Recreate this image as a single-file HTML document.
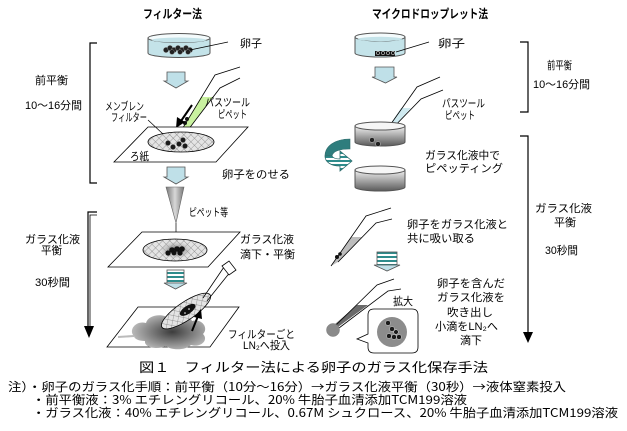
<!DOCTYPE html>
<html><head><meta charset="utf-8">
<style>
html,body{margin:0;padding:0;background:#fff;}
svg{display:block;}
text{font-family:"Liberation Sans","Noto Sans CJK JP",sans-serif;fill:#000;}
.t{font-size:11px;}
.b{font-size:12px;font-weight:bold;}
.c{font-size:13px;}
.n{font-size:12px;font-family:"Noto Sans CJK JP","Liberation Sans",sans-serif;}
</style></head>
<body>
<svg width="627" height="431" viewBox="0 0 627 431" xmlns="http://www.w3.org/2000/svg">
<defs>
  <pattern id="hatch" patternUnits="userSpaceOnUse" width="5" height="5" patternTransform="rotate(45)">
    <rect width="5" height="5" fill="#e4e4e4"/>
    <path d="M0,0 L5,0 M0,0 L0,5" stroke="#7a7a7a" stroke-width="0.7"/>
  </pattern>
  <pattern id="stripe" patternUnits="userSpaceOnUse" width="4" height="4">
    <rect width="4" height="4" fill="#ffffff"/>
    <rect width="4" height="2" fill="#2e8c8c"/>
  </pattern>
  <linearGradient id="gdish" x1="0" y1="0" x2="0" y2="1">
    <stop offset="0" stop-color="#f2f2f2"/>
    <stop offset="1" stop-color="#5a5a5a"/>
  </linearGradient>
  <linearGradient id="gcone" x1="0" y1="0" x2="1" y2="0">
    <stop offset="0" stop-color="#777"/>
    <stop offset="0.5" stop-color="#d8d8d8"/>
    <stop offset="1" stop-color="#777"/>
  </linearGradient>
  <radialGradient id="gcloud" cx="0.55" cy="0.5" r="0.6">
    <stop offset="0" stop-color="#3c3c3c"/>
    <stop offset="1" stop-color="#c4c4c4"/>
  </radialGradient>
  <radialGradient id="ghalo" cx="0.5" cy="0.5" r="0.5">
    <stop offset="0" stop-color="#555"/>
    <stop offset="1" stop-color="#bbb" stop-opacity="0.2"/>
  </radialGradient>
</defs>

<!-- Titles -->
<text class="b" x="143" y="18" textLength="59" lengthAdjust="spacingAndGlyphs">フィルター法</text>
<text class="b" x="372" y="18" textLength="116" lengthAdjust="spacingAndGlyphs">マイクロドロップレット法</text>

<!-- ===== LEFT ===== -->
<path d="M97,43 L90,43 L90,183 L97,183" fill="none" stroke="#000" stroke-width="1.2"/>
<text class="t" x="35" y="84" textLength="33" lengthAdjust="spacingAndGlyphs">前平衡</text>
<text class="t" x="25" y="109" textLength="57" lengthAdjust="spacingAndGlyphs">10～16分間</text>

<!-- dish 1 -->
<path d="M148,38 L148,53 A31,4.5 0 0 0 210,53 L210,38 Z" fill="#c4e3e9" stroke="#555"/>
<ellipse cx="179" cy="38" rx="31" ry="4.5" fill="#f4fbfc" stroke="#555"/>
<ellipse cx="179" cy="40" rx="27" ry="2.5" fill="#c4e3e9"/>
<g fill="#222" stroke="#888" stroke-width="0.5">
<circle cx="166" cy="50" r="2.6"/><circle cx="170" cy="48" r="2.6"/><circle cx="174" cy="50" r="2.6"/>
<circle cx="178" cy="48" r="2.6"/><circle cx="182" cy="50" r="2.6"/><circle cx="186" cy="48" r="2.6"/>
<circle cx="190" cy="50" r="2.6"/><circle cx="172" cy="52" r="2.4"/><circle cx="180" cy="52" r="2.4"/><circle cx="188" cy="52" r="2.4"/>
</g>
<line x1="190" y1="50" x2="228" y2="42" stroke="#000" stroke-width="0.8"/>
<text class="t" x="240" y="47" textLength="22" lengthAdjust="spacingAndGlyphs">卵子</text>

<polygon points="167,72 185,72 185,81 188,81 176,88 164,81 167,81" fill="#bfe0e8" stroke="#555" stroke-width="0.8"/>

<polygon points="201,97 213,97 190,127 183,128" fill="#c9f2a0"/>
<polyline points="240,67 215,75 181,131" fill="none" stroke="#000" stroke-width="0.8"/>
<polyline points="240,78 220,88 188,130" fill="none" stroke="#000" stroke-width="0.8"/>
<circle cx="187" cy="119" r="2" fill="#111"/><circle cx="185" cy="123" r="2" fill="#111"/>
<line x1="192" y1="105" x2="181" y2="121" stroke="#000" stroke-width="2"/>
<polygon points="176,128 177,117 185,122" fill="#000"/>
<text class="t" x="205" y="106" textLength="45" lengthAdjust="spacingAndGlyphs">パスツール</text>
<text class="t" x="218" y="118" textLength="29" lengthAdjust="spacingAndGlyphs">ピペット</text>
<text class="t" x="105" y="110" textLength="39" lengthAdjust="spacingAndGlyphs">メンブレン</text>
<text class="t" x="111" y="121" textLength="36" lengthAdjust="spacingAndGlyphs">フィルター</text>

<polygon points="148,127 248,127 216,162 114,162" fill="#fff" stroke="#000" stroke-width="0.8"/>
<ellipse cx="181" cy="142" rx="33" ry="10" fill="url(#hatch)" stroke="#000" stroke-width="0.8"/>
<line x1="148" y1="120" x2="163" y2="134" stroke="#000" stroke-width="0.7"/>
<g fill="#1a1a1a" stroke="#999" stroke-width="0.5">
<circle cx="168" cy="143" r="2.6"/><circle cx="173" cy="147" r="2.6"/><circle cx="179" cy="144" r="2.6"/>
<circle cx="183" cy="140" r="2.6"/><circle cx="185" cy="146" r="2.6"/>
</g>
<text class="t" x="130" y="160" textLength="19" lengthAdjust="spacingAndGlyphs">ろ紙</text>
<text class="t" x="222" y="178" textLength="68" lengthAdjust="spacingAndGlyphs">卵子をのせる</text>

<polygon points="167,167 185,167 185,177 188,177 176,184 164,177 167,177" fill="#bfe0e8" stroke="#555" stroke-width="0.8"/>

<path d="M97,212 L88,212 L88,330" fill="none" stroke="#000" stroke-width="1.2"/>
<path d="M97,215 L90,215 L90,330" fill="none" stroke="#000" stroke-width="0.8"/>
<polygon points="84,326 94,326 89,338" fill="#000"/>
<text class="t" x="25" y="243" textLength="55" lengthAdjust="spacingAndGlyphs">ガラス化液</text>
<text class="t" x="41" y="254" textLength="21" lengthAdjust="spacingAndGlyphs">平衡</text>
<text class="t" x="35" y="286" textLength="35" lengthAdjust="spacingAndGlyphs">30秒間</text>

<polygon points="166,187 184,187 176,223" fill="url(#gcone)" stroke="#666" stroke-width="0.6"/>
<line x1="176" y1="223" x2="176" y2="239" stroke="#888" stroke-width="1.5"/>
<text class="t" x="189" y="216" textLength="39" lengthAdjust="spacingAndGlyphs">ピペット等</text>

<polygon points="142,232 240,232 208,267 108,267" fill="#fff" stroke="#000" stroke-width="0.8"/>
<ellipse cx="175" cy="250" rx="32" ry="11" fill="url(#hatch)" stroke="#000" stroke-width="0.8"/>
<ellipse cx="176" cy="250" rx="15" ry="8" fill="url(#ghalo)"/>
<g fill="#111">
<circle cx="168" cy="253" r="2.6"/><circle cx="172" cy="250" r="2.8"/><circle cx="177" cy="249" r="2.8"/>
<circle cx="182" cy="249" r="2.8"/><circle cx="180" cy="253" r="2.6"/><circle cx="174" cy="253" r="2.4"/>
</g>
<text class="t" x="240" y="243" textLength="54" lengthAdjust="spacingAndGlyphs">ガラス化液</text>
<text class="t" x="240" y="258" textLength="55" lengthAdjust="spacingAndGlyphs">滴下・平衡</text>

<rect x="167" y="270" width="17" height="13" fill="url(#stripe)" stroke="#555" stroke-width="0.8"/>
<polygon points="164,283 187,283 175.5,289" fill="#bfe0e8" stroke="#555" stroke-width="0.8"/>

<polygon points="138,307 239,307 210,347 107,347" fill="#fff" stroke="#000" stroke-width="0.8"/>
<line x1="118" y1="337" x2="134" y2="336" stroke="#bbb" stroke-width="2"/>
<path d="M134,336 C128,330 136,320 146,323 C148,315 162,313 168,318 C174,312 190,314 192,321 C202,318 209,328 203,334 C209,340 201,348 191,345 C185,351 170,350 166,346 C158,350 144,348 145,341 C139,341 134,339 134,336 Z" fill="url(#gcloud)"/>
<g transform="rotate(-34 186 311)">
<ellipse cx="186" cy="311" rx="29" ry="9" fill="url(#hatch)" stroke="#000" stroke-width="0.8"/>
<ellipse cx="188" cy="311" rx="9" ry="4" fill="#111"/>
</g>
<g fill="#fff"><circle cx="185" cy="313" r="0.8"/><circle cx="189" cy="309" r="0.8"/></g>
<line x1="203" y1="298" x2="224" y2="267" stroke="#000" stroke-width="0.8"/>
<line x1="207" y1="301" x2="231" y2="271" stroke="#000" stroke-width="0.8"/>
<polygon points="222,266 229,261 236,270 229,275" fill="#fff" stroke="#000" stroke-width="0.8"/>
<line x1="192" y1="331" x2="198" y2="316" stroke="#000" stroke-width="2"/>
<polygon points="201,309 194,317 202,319" fill="#000"/>
<text class="t" x="228" y="338" textLength="67" lengthAdjust="spacingAndGlyphs">フィルターごと</text>
<text class="t" x="243" y="349" textLength="47" lengthAdjust="spacingAndGlyphs">LN₂へ投入</text>

<!-- ===== RIGHT ===== -->
<path d="M355,37 L355,53 A25,4 0 0 0 405,53 L405,37 Z" fill="#c4e3e9" stroke="#555"/>
<ellipse cx="380" cy="37" rx="25" ry="4" fill="#f4fbfc" stroke="#555"/>
<ellipse cx="380" cy="39" rx="22" ry="2.2" fill="#c4e3e9"/>
<rect x="375" y="51" width="20" height="5" fill="#111"/>
<g fill="none" stroke="#ddd" stroke-width="0.6">
<circle cx="378" cy="53" r="1.6"/><circle cx="383" cy="53" r="1.6"/><circle cx="388" cy="53" r="1.6"/><circle cx="393" cy="53" r="1.6"/>
</g>
<line x1="396" y1="52" x2="429" y2="42" stroke="#000" stroke-width="0.8"/>
<text class="t" x="438" y="47" textLength="27" lengthAdjust="spacingAndGlyphs">卵子</text>

<polygon points="375,67 394,67 394,77 397,77 385.5,83 372,77 375,77" fill="#bfe0e8" stroke="#555" stroke-width="0.8"/>

<path d="M520,42 L528,42 L528,112 L520,112" fill="none" stroke="#000" stroke-width="1.2"/>
<text class="t" x="547" y="69" textLength="25" lengthAdjust="spacingAndGlyphs">前平衡</text>
<text class="t" x="533" y="88" textLength="57" lengthAdjust="spacingAndGlyphs">10～16分間</text>

<polygon points="401,108 411,108 387,135 381,138" fill="#cfeaf0"/>
<polyline points="440,77 417,87 381,138" fill="none" stroke="#000" stroke-width="0.8"/>
<polyline points="443,90 421,99 386,135" fill="none" stroke="#000" stroke-width="0.8"/>
<text class="t" x="442" y="107" textLength="43" lengthAdjust="spacingAndGlyphs">パスツール</text>
<text class="t" x="445" y="119" textLength="30" lengthAdjust="spacingAndGlyphs">ピペット</text>

<path d="M355,126 L355,142 A25,4 0 0 0 405,142 L405,126 Z" fill="url(#gdish)" stroke="#555"/>
<ellipse cx="380" cy="126" rx="25" ry="4" fill="#f6f6f6" stroke="#555"/>
<circle cx="372" cy="140" r="2.5" fill="#222" stroke="#ccc" stroke-width="0.5"/>
<circle cx="378" cy="144" r="2.5" fill="#222" stroke="#ccc" stroke-width="0.5"/>

<path d="M350,139 L350,149 C340,149 333,151 332,156 L325,156 C325,146 335,139 350,139 Z" fill="#2e7d7d" stroke="#2e6b6b" stroke-width="0.6"/>
<path d="M325,156 L332,156 C333,158 336,159 340,159 L340,151 L352,161 L340,171 L340,166 C331,166 325,162 325,156 Z" fill="url(#stripe)" stroke="#2e6b6b" stroke-width="0.8"/>

<path d="M355,170 L355,187 A25,4 0 0 0 405,187 L405,170 Z" fill="url(#gdish)" stroke="#555"/>
<ellipse cx="380" cy="170" rx="25" ry="4" fill="#f6f6f6" stroke="#555"/>

<text class="t" x="425" y="159" textLength="75" lengthAdjust="spacingAndGlyphs">ガラス化液中で</text>
<text class="t" x="425" y="172" textLength="78" lengthAdjust="spacingAndGlyphs">ピペッティング</text>

<path d="M520,136 L528,136 L528,334" fill="none" stroke="#000" stroke-width="1.2"/>
<polygon points="523,332 533,332 528,343" fill="#000"/>
<text class="t" x="535" y="212" textLength="57" lengthAdjust="spacingAndGlyphs">ガラス化液</text>
<text class="t" x="554" y="226" textLength="22" lengthAdjust="spacingAndGlyphs">平衡</text>
<text class="t" x="545" y="254" textLength="33" lengthAdjust="spacingAndGlyphs">30秒間</text>

<polygon points="351,237 362,237 338,262 331,266" fill="#bdbdbd"/>
<polyline points="391,208 366,216 331,266" fill="none" stroke="#000" stroke-width="0.8"/>
<polyline points="392,219 376,223 338,262" fill="none" stroke="#000" stroke-width="0.8"/>
<circle cx="337" cy="257" r="2" fill="#111"/><circle cx="340" cy="254" r="1.8" fill="#111"/>
<text class="t" x="407" y="228" textLength="101" lengthAdjust="spacingAndGlyphs">卵子をガラス化液と</text>
<text class="t" x="407" y="242" textLength="68" lengthAdjust="spacingAndGlyphs">共に吸い取る</text>

<rect x="377" y="252" width="20" height="13" fill="url(#stripe)" stroke="#555" stroke-width="0.8"/>
<polygon points="374,265 400,265 387,271" fill="#bfe0e8" stroke="#555" stroke-width="0.8"/>

<polygon points="357,305 368,305 338,327 334,325" fill="#6a6a6a"/>
<polyline points="394,279 377,285 333,328" fill="none" stroke="#000" stroke-width="0.8"/>
<polyline points="401,289 388,291 339,328" fill="none" stroke="#000" stroke-width="0.8"/>
<circle cx="333" cy="330" r="6.5" fill="#8a8a8a" stroke="#777" stroke-width="0.5"/>

<text class="t" x="393" y="305" textLength="20" lengthAdjust="spacingAndGlyphs">拡大</text>
<path d="M374,309 L412,309 Q418,309 418,315 L418,347 Q418,353 412,353 L374,353 Q368,353 368,347 L368,343 L357,339 L368,334 L368,315 Q368,309 374,309 Z" fill="#fff" stroke="#000" stroke-width="0.8"/>
<circle cx="392" cy="332" r="15" fill="#8c8c8c"/>
<g fill="#1a1a1a" stroke="#ddd" stroke-width="0.5">
<circle cx="388" cy="323" r="2.5"/><circle cx="392" cy="329" r="2.5"/><circle cx="389" cy="336" r="2.5"/>
<circle cx="394" cy="337" r="2.5"/><circle cx="399" cy="337" r="2.5"/><circle cx="396" cy="332" r="2.3"/>
</g>

<text class="t" x="437" y="287" textLength="68" lengthAdjust="spacingAndGlyphs">卵子を含んだ</text>
<text class="t" x="437" y="301" textLength="68" lengthAdjust="spacingAndGlyphs">ガラス化液を</text>
<text class="t" x="447" y="316" textLength="46" lengthAdjust="spacingAndGlyphs">吹き出し</text>
<text class="t" x="435" y="330" textLength="63" lengthAdjust="spacingAndGlyphs">小滴をLN₂へ</text>
<text class="t" x="460" y="344" textLength="22" lengthAdjust="spacingAndGlyphs">滴下</text>

<text class="c" x="139" y="372" textLength="349" lengthAdjust="spacingAndGlyphs">図１　フィルター法による卵子のガラス化保存手法</text>
<text class="n" x="8" y="391" textLength="558" lengthAdjust="spacingAndGlyphs">注）・卵子のガラス化手順：前平衡（10分～16分）→ガラス化液平衡（30秒）→液体窒素投入</text>
<text class="n" x="32" y="404" textLength="435" lengthAdjust="spacingAndGlyphs">・前平衡液：3% エチレングリコール、20% 牛胎子血清添加TCM199溶液</text>
<text class="n" x="32" y="417" textLength="586" lengthAdjust="spacingAndGlyphs">・ガラス化液：40% エチレングリコール、0.67M シュクロース、20% 牛胎子血清添加TCM199溶液</text>
</svg>
</body></html>
